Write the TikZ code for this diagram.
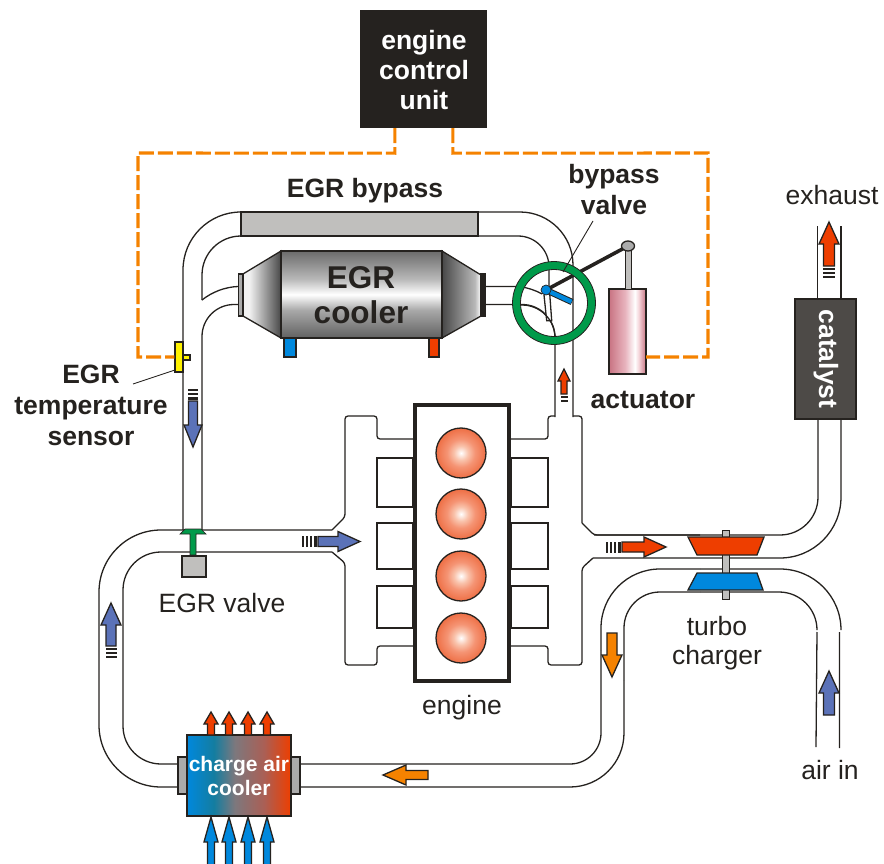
\documentclass[tikz,border=0pt]{standalone}
\usepackage{fontspec}
\setmainfont{Liberation Sans}
\definecolor{ink}{HTML}{25221F}
\definecolor{hot}{HTML}{EE3E00}
\definecolor{cold}{HTML}{0088DD}
\definecolor{warm}{HTML}{F58200}
\definecolor{egrblue}{HTML}{5B72B8}
\definecolor{vgreen}{HTML}{009A4A}
\definecolor{pale}{HTML}{C0BFBD}
\definecolor{midgray}{HTML}{ABABAB}
\definecolor{catgray}{HTML}{4D4A47}
\definecolor{rosea}{RGB}{200,115,130}
\definecolor{roseb}{RGB}{232,180,190}
\definecolor{rosec}{RGB}{245,215,220}
\definecolor{ctealx}{RGB}{20,125,160}
\definecolor{cgrayx}{RGB}{125,120,125}
\definecolor{credx}{RGB}{170,95,85}
\definecolor{cylx}{RGB}{238,111,69}
\definecolor{cylm}{RGB}{245,148,116}
\definecolor{cyln}{RGB}{249,195,172}
\definecolor{ga}{gray}{0.42}
\definecolor{gb}{gray}{0.66}
\definecolor{gc}{gray}{0.72}
\definecolor{gd}{gray}{0.38}
\definecolor{ge}{gray}{0.28}
\definecolor{gf}{gray}{0.95}
\pgfdeclareverticalshading{coolerbody}{100bp}{color(0bp)=(gd);color(25bp)=(gd);color(41bp)=(gb);color(50bp)=(white);color(59bp)=(gc);color(75bp)=(ga);color(100bp)=(ga)}
\pgfdeclarehorizontalshading{coneleft}{100bp}{color(0bp)=(gf);color(25bp)=(gf);color(33bp)=(gf);color(75bp)=(ge);color(100bp)=(ge)}
\pgfdeclarehorizontalshading{coneright}{100bp}{color(0bp)=(ge);color(25bp)=(ge);color(67bp)=(gc);color(75bp)=(white);color(100bp)=(white)}
\pgfdeclarehorizontalshading{pistonshade}{100bp}{color(0bp)=(rosea);color(25bp)=(rosea);color(47bp)=(roseb);color(60bp)=(white);color(65bp)=(rosec);color(75bp)=(rosea);color(100bp)=(rosea)}
\pgfdeclarehorizontalshading{chargeair}{100bp}{color(0bp)=(cold);color(25bp)=(cold);color(38bp)=(ctealx);color(48bp)=(cgrayx);color(62bp)=(credx);color(75bp)=(hot);color(100bp)=(hot)}
\pgfdeclareradialshading{cylshade}{\pgfpointorigin}{color(0bp)=(white);color(7bp)=(cyln);color(14bp)=(cylm);color(25bp)=(cylx);color(50bp)=(cylx)}
\tikzset{
  pipe/.style={draw=ink,line width=1.3pt},
  lbl/.style={inner sep=0pt,text=ink,font=\fontsize{26.5}{30}\selectfont,align=center},
  blbl/.style={lbl,font=\fontsize{26.5}{31}\selectfont\bfseries},
  ctrl/.style={draw=warm,line width=3.1pt,dash pattern=on 15pt off 4pt},
  outl/.style={draw=ink,line width=1.3pt},
  cyl/.style={outl,shading=cylshade},
}
% tip x, tip y, rotation, head length, head half width, shaft length, shaft half width, colour, number of bars
\newcommand{\flowarrow}[9]{%
  \begin{scope}[shift={(#1,#2)},rotate=#3]
    \draw[outl,fill=#8,miter limit=4] (0,0) -- (#5,#4) -- (#7,#4) -- (#7,#4+#6) -- (-#7,#4+#6) -- (-#7,#4) -- (-#5,#4) -- cycle;
    \ifnum#9>0
      \foreach \k in {1,...,#9}{\fill[ink] (-#7-0.5,{#4+#6+4.1*\k-2.6}) rectangle (#7+0.5,{#4+#6+4.1*\k});}
    \fi
  \end{scope}}
\begin{document}
\begin{tikzpicture}[x=1pt,y=-1pt]
\useasboundingbox (0,0) rectangle (884,864);
% EGR loop and bypass pipes
\draw[pipe,rounded corners=58pt] (241,212) -- (183,212) -- (183,530);
\draw[pipe,rounded corners=39pt] (241,236) -- (202,236) -- (202,300);
\draw[pipe] (202,300) .. controls (212,292) and (225,287) .. (238,286.5);
\draw[pipe,rounded corners=32pt] (238,304.5) -- (202,304.5) -- (202,530);
\draw[pipe,rounded corners=53pt] (478,212) -- (573,212) -- (573,417);
\draw[pipe,rounded corners=31pt] (478,236) -- (549,236) -- (549,290);
\draw[pipe] (485,286.5) -- (520,286.5) .. controls (528,288) and (535,290) .. (542,294);
\draw[pipe,rounded corners=33pt] (485,304.5) -- (555,304.5) -- (555,417);
% intake pipe
\draw[pipe,rounded corners=62pt] (332,530) -- (99,530) -- (99,787) -- (178,787);
\draw[pipe,rounded corners=38pt] (332,552) -- (123,552) -- (123,764) -- (178,764);
\draw[pipe,rounded corners=3pt] (332,530) -- (345,517) -- (345,416) -- (377,416) -- (377,439) -- (413,439);
\draw[pipe,rounded corners=3pt] (332,552) -- (345,563) -- (345,665) -- (377,665) -- (377,646) -- (413,646);
\draw[pipe] (377,458) rectangle (413,507) (377,523) rectangle (413,569) (377,586) rectangle (413,628);
% exhaust manifold
\draw[pipe] (511,458) rectangle (548,507) (511,523) rectangle (548,569) (511,586) rectangle (548,628);
\draw[pipe,rounded corners=3pt] (511,439) -- (548,439) -- (548,416) -- (555,416);
\draw[pipe,rounded corners=3pt] (573,416) -- (582,416) -- (582,523);
\draw[pipe,rounded corners=3pt] (582,523) -- (594,535) -- (700,535);
\draw[pipe,rounded corners=3pt] (593,558) -- (582,568) -- (582,665) -- (548,665) -- (548,646) -- (511,646);
\draw[pipe,rounded corners=38pt] (594,535) -- (818,535) -- (818,419);
\draw[pipe,rounded corners=61pt] (593,558) -- (841,558) -- (841,419);
\draw[pipe] (817.5,226) -- (817.5,299) (841,226) -- (841,299);
% compressor pipes
\draw[pipe,rounded corners=31pt] (300,764) -- (601,764) -- (601,650);
\draw[pipe,rounded corners=59pt] (601,650) -- (601,569) -- (700,569);
\draw[pipe,rounded corners=54pt] (300,787) -- (624,787) -- (624,680);
\draw[pipe,rounded corners=36pt] (624,680) -- (624,592) -- (700,592);
\draw[pipe,rounded corners=61pt] (700,569) -- (841,569) -- (841,628);
\draw[pipe,rounded corners=38pt] (700,592) -- (817,592) -- (817,628);
\draw[pipe] (817,632) -- (816,747) (839.5,632) -- (839.5,748);
% shaft and turbo wheels
\draw[outl,fill=pale,line width=0.9pt] (722,530) rectangle (729,599);
\draw[outl,fill=hot] (688,537) -- (764,537) -- (757,555) -- (697,555) -- cycle;
\draw[outl,fill=cold] (697,573) -- (757,573) -- (763,590) -- (688,590) -- cycle;
% bypass tube and cooler
\draw[outl,fill=pale] (241,212) rectangle (478,236);
\shade[shading=coneleft] (243,274) -- (281,251) -- (281,338) -- (243,316) -- cycle;
\draw[outl] (243,274) -- (281,251) -- (281,338) -- (243,316) -- cycle;
\shade[shading=coneright] (442,251) -- (481,275) -- (481,316) -- (442,338) -- cycle;
\draw[outl] (442,251) -- (481,275) -- (481,316) -- (442,338) -- cycle;
\draw[outl,fill=midgray] (238.5,274) rectangle (243,316);
\draw[outl,fill=ink] (481,274) rectangle (485,316);
\shade[shading=coolerbody] (281,251) rectangle (442,338);
\draw[outl] (281,251) rectangle (442,338);
\draw[outl,fill=cold] (284,338) rectangle (296,357);
\draw[outl,fill=hot] (429,338) rectangle (439,357);
\node[lbl,font=\fontsize{31.5}{35}\selectfont\bfseries] (coolerlabel) at (361,295) {EGR\\cooler};
% engine
\node[draw=ink,line width=4pt,fill=white,minimum width=94pt,minimum height=276pt,inner sep=0pt] (engine) at (462,543) {};
\shade[cyl] (461,453) circle (25);
\shade[cyl] (461,514) circle (25);
\shade[cyl] (461,576) circle (25);
\shade[cyl] (461,638) circle (25);
% control unit and sensors
\node[fill=ink,minimum width=127pt,minimum height=118pt,inner sep=0pt] (ecu) at (423.5,69) {};
\node[inner sep=0pt,text=white,align=center,font=\fontsize{26.5}{30}\selectfont\bfseries] (ecutext) at (424,70) {engine\\control\\unit};
\node[outl,fill=yellow,minimum width=8pt,minimum height=30pt,inner sep=0pt] (sensor) at (179,357) {};
\draw[outl,fill=yellow] (183,355) rectangle (190,360);
\shade[outl,shading=pistonshade] (609,289) rectangle (646,374);
\coordinate (actuatorport) at (646,357);
\coordinate (corneratl) at (138,153);
\coordinate (corneratr) at (708,153);
\draw[ctrl] ([xshift=35pt]ecu.south west) -- ++(0,25) -- (corneratl) -- (corneratl |- sensor.west) -- (sensor.west);
\draw[ctrl] ([xshift=93pt]ecu.south west) -- ++(0,25) -- (corneratr) -- (corneratr |- actuatorport) -- (actuatorport);
% bypass valve
\draw[outl,fill=white] (544,295) -- (546.7,320.7) -- (551.7,320.7) -- (549.3,288) -- cycle;
\draw[pipe,rounded corners=33pt] (520,305) -- (555,305) -- (555,338);
\draw[outl,fill=pale,line width=0.9pt] (625,246) rectangle (631,289);
\draw[ink,line width=3.6pt] (546,290) -- (628,246);
\draw[ink,line width=6.4pt] (546,290) -- (572,302);
\draw[cold,line width=4.4pt] (546,290) -- (571.5,301.8);
\draw[outl,fill=cold,line width=0.7pt] (546,290) circle (5);
\draw[outl,fill=midgray] (628,246) ellipse (6.5 and 5);
\draw[draw=ink,line width=0.8pt,fill=vgreen,even odd rule] (554,303) circle (41.5) (554,303) circle (33.5);
\coordinate (valvetip) at (563,272);
\node[blbl] (bypasslabel) at (614,190) {bypass\\valve};
\draw[ink,line width=0.9pt] (593,221) -- (valvetip);
% EGR valve
\draw[draw=ink,line width=0.7pt,fill=vgreen] (190,534) -- (180,534) -- (185,529) -- (201,529) -- (206,534) -- (196,534) -- (196,555) -- (190,555) -- cycle;
\draw[outl,fill=pale] (182,556) rectangle (206,577);
% charge air cooler
\draw[outl,fill=midgray] (178,757) rectangle (187,794);
\draw[outl,fill=midgray] (291,757) rectangle (300,794);
\shade[shading=chargeair] (187,735) rectangle (291,816);
\node[draw=ink,line width=1.3pt,minimum width=104pt,minimum height=81pt,inner sep=0pt,text=white,align=center,font=\fontsize{21}{24}\selectfont\bfseries] (chargecooler) at (239,775.5) {charge air\\cooler};
\foreach \ax in {211,229,248,267}{
  \flowarrow{\ax}{712}{0}{12}{7}{11}{3.5}{hot}{0}
  \flowarrow{\ax}{817}{0}{25}{7}{25}{3.5}{cold}{0}
}
% catalyst
\node[draw=ink,line width=1.3pt,fill=catgray,minimum width=61pt,minimum height=120pt,inner sep=0pt] (catalyst) at (825.5,359) {};
\node[rotate=-90,inner sep=0pt,text=white,font=\fontsize{26.5}{30}\selectfont\bfseries] (catalystlabel) at (826,359) {catalyst};
% flow arrows
\flowarrow{193}{447}{180}{22}{9}{24}{4.5}{egrblue}{3}
\flowarrow{360}{541.5}{-90}{22}{10}{20}{5}{egrblue}{4}
\flowarrow{111}{603}{0}{22}{10}{21}{5}{egrblue}{3}
\flowarrow{564}{369}{0}{12}{6}{13}{3}{hot}{2}
\flowarrow{666}{547}{-90}{22}{10}{22}{5}{hot}{4}
\flowarrow{829}{222}{0}{22}{10}{22}{5.5}{hot}{3}
\flowarrow{612}{677}{180}{22}{10}{22}{5}{warm}{0}
\flowarrow{383}{775}{90}{23}{10}{22}{4.5}{warm}{0}
\flowarrow{829}{671}{0}{22}{10}{22}{5.5}{egrblue}{0}
% labels
\node[blbl] (bypassname) at (365,191) {EGR bypass};
\node[blbl] (tempname) at (91,405) {EGR\\temperature\\sensor};
\coordinate (sensortail) at (133,384);
\draw[ink,line width=0.9pt] (sensortail) -- (175,370);
\node[blbl] (actname) at (643,400) {actuator};
\node[lbl] (exhaustname) at (832,195) {exhaust};
\node[lbl] (valvename) at (222,603) {EGR valve};
\node[lbl] (enginename) at (462,708) {engine};
\node[lbl,font=\fontsize{26.5}{29}\selectfont] (turboname) at (717,643) {turbo\\charger};
\node[lbl] (airname) at (830,770) {air in};
\end{tikzpicture}
\end{document}
